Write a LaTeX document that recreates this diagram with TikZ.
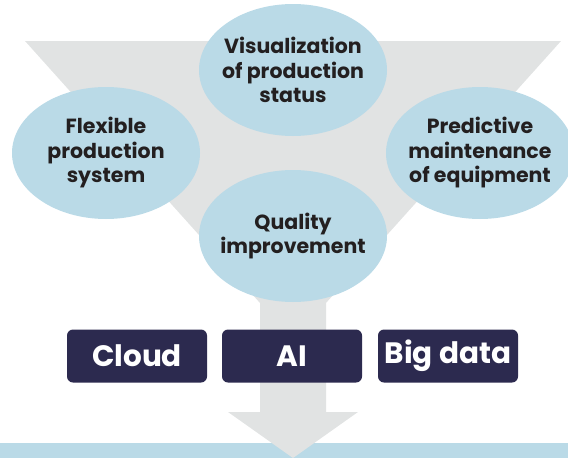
\documentclass[tikz,border=0pt]{standalone}
\usepackage{fontspec}
\setmainfont{Poppins}[BoldFont={* Bold}]
\usetikzlibrary{shapes.geometric}
\definecolor{funnelgray}{HTML}{E1E3E3}
\definecolor{bubbleblue}{HTML}{BADAE7}
\definecolor{boxnavy}{HTML}{2C2A4F}
\definecolor{textdark}{HTML}{231F20}
\tikzset{
  bubble/.style={ellipse, fill=bubbleblue, minimum width=188pt, minimum height=132pt,
    inner xsep=-25pt, inner ysep=-10pt, align=center, text=textdark,
    font=\bfseries\fontsize{20.5}{24.5}\selectfont},
  techbox/.style={rectangle, rounded corners=6pt, fill=boxnavy, text=white,
    minimum width=140pt, minimum height=53pt, inner sep=0pt,
    font=\bfseries\fontsize{29.5}{32}\selectfont}
}
\begin{document}
\begin{tikzpicture}[x=1pt,y=-1pt]
    \useasboundingbox (0,0) rectangle (568,458);
    % band at the bottom
    \fill[bubbleblue] (0,443) rectangle (568,458);
    % funnel and arrow
    \fill[funnelgray] (25,41) -- (561,41) -- (326,303) -- (326,412) -- (358,412)
        -- (293,458) -- (228,412) -- (260,412) -- (260,303) -- cycle;
    % goals
    \node[bubble] (visual) at (293,70) {Visualization\\of production\\status};
    \node[bubble] (flexible) at (106,153) {Flexible\\production\\system};
    \node[bubble] (predictive) at (480,153) {Predictive\\maintenance\\of equipment};
    \node[bubble] (quality) at (293,236) {Quality\\improvement};
    % technologies
    \foreach \x/\name/\txt in {137/cloud/Cloud, 292/ai/AI, 448/bigdata/Big data} {
        \node[techbox] (\name) at (\x,356) {\txt};
    }
\end{tikzpicture}
\end{document}
